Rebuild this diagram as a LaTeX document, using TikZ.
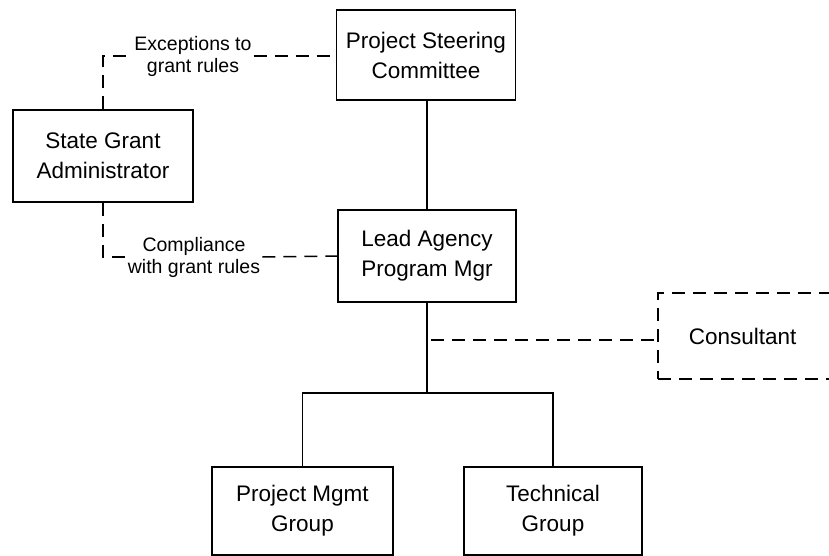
\documentclass[tikz,border=0pt]{standalone}
\usepackage{fontspec}
\setmainfont{Liberation Sans}

\begin{document}
\begin{tikzpicture}[x=1pt,y=-1pt,
  box/.style={shape=rectangle, draw, line width=1.8pt, align=center, inner sep=0pt,
    font=\fontsize{22.5}{30}\selectfont},
  dashline/.style={line width=1.5pt, dash pattern=on 13pt off 8pt},
  note/.style={align=center, inner sep=2pt, font=\fontsize{19.5}{22}\selectfont}]
%[page frame]
\path[use as bounding box, clip] (0,0) rectangle (829,556);

\path (426,55) node (PSC) [box, minimum width=179pt, minimum height=90pt] {Project Steering\\Committee};
\path (103,156) node (SGA) [box, minimum width=180pt, minimum height=92pt] {State Grant\\Administrator};
\path (427,256) node (LAPM) [box, minimum width=178pt, minimum height=92pt] {Lead Agency\\Program Mgr};
\path (302.5,511) node (PMG) [box, minimum width=181pt, minimum height=88pt] {Project Mgmt\\Group};
\path (553,511) node (TG) [box, minimum width=178pt, minimum height=88pt] {Technical\\Group};
\path (657,336) node (CON) [box, dashline, anchor=west, minimum height=86pt, text width=150pt,
  align=left, inner xsep=31pt] {Consultant};

\path (193,56) node (EXC) [note] {Exceptions to\\grant rules};
\path (194,257) node (CMP) [note] {Compliance\\with grant rules};

\coordinate (FORK) at (427,393);
\coordinate (TAP) at (431,340);

% solid reporting lines
\draw[line width=1.8pt] (PSC.south -| FORK) -- (LAPM.north);
\draw[line width=1.8pt] (LAPM.south) -- (FORK);
\draw[line width=1.8pt] (PMG.north) |- (FORK) -| (TG.north);

% dashed advisory lines
\draw[dashline] (SGA.north) |- (EXC.west);
\draw[dashline] (EXC.east) -- (EXC.east -| PSC.west);
\draw[dashline] (SGA.south) |- (CMP.west);
\draw[dashline] (CMP.east) -- (LAPM.west);
\draw[dashline] (TAP) -- (TAP -| CON.west);

\end{tikzpicture}
\end{document}
